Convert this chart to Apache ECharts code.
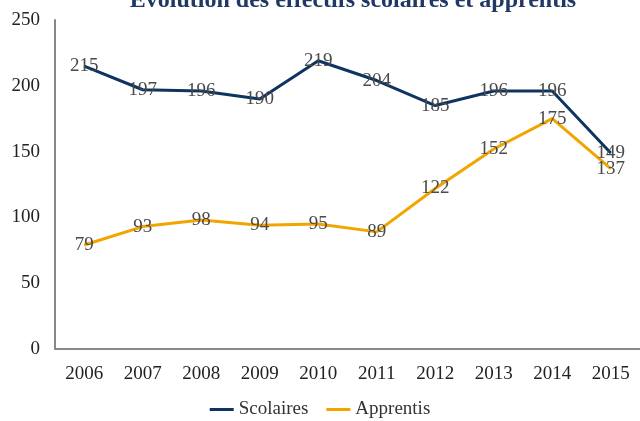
<!DOCTYPE html>
<html><head><meta charset="utf-8">
<script src="https://cdn.jsdelivr.net/npm/echarts@6/dist/echarts.min.js"></script>
<style>html,body{margin:0;padding:0;background:#fff}#c{width:640px;height:421px}</style>
</head><body><div id="c"></div>
<script>
const years = ['2006','2007','2008','2009','2010','2011','2012','2013','2014','2015'];
const scolaires = [215,197,196,190,219,204,185,196,196,149];
const apprentis = [79,93,98,94,95,89,122,152,175,137];
const yTicks = [0,50,100,150,200,250];

const font = 'Liberation Serif';
const chart = echarts.init(document.getElementById('c'));
const lbl = {show:true, position:'inside', color:'#4a4a4a', fontFamily:font, fontSize:19};
chart.setOption({
  animation:false,
  textStyle:{fontFamily:font},
  title:{text:'Évolution des effectifs scolaires et apprentis', left:348, textAlign:'center', top:-16,
    textStyle:{fontFamily:font, fontSize:24, fontWeight:'bold', color:'#1F3864'}},
  legend:{bottom:-3, left:'center', itemWidth:24, itemHeight:3, itemGap:18, icon:'rect',
    textStyle:{fontFamily:font, fontSize:19, color:'#333'},
    data:['Scolaires','Apprentis']},
  grid:{left:55, right:-2, top:20, bottom:72},
  xAxis:{type:'category', data:years, boundaryGap:true,
    axisLine:{lineStyle:{color:'#888', width:2}}, axisTick:{show:false},
    axisLabel:{color:'#222', fontFamily:font, fontSize:19, margin:16}},
  yAxis:{type:'value', min:yTicks[0], max:yTicks[yTicks.length-1], interval:50,
    splitLine:{show:false},
    axisLine:{show:true, lineStyle:{color:'#888', width:2}}, axisTick:{show:false},
    axisLabel:{color:'#222', fontFamily:font, fontSize:19, margin:15}},
  series:[
    {name:'Scolaires', type:'line', data:scolaires, symbol:'circle', symbolSize:1, showSymbol:true, lineStyle:{color:'#0E3460', width:3}, itemStyle:{color:'#0E3460'}, label:lbl},
    {name:'Apprentis', type:'line', data:apprentis, symbol:'circle', symbolSize:1, showSymbol:true, lineStyle:{color:'#F2A500', width:3}, itemStyle:{color:'#F2A500'}, label:lbl}
  ]
});
</script></body></html>
